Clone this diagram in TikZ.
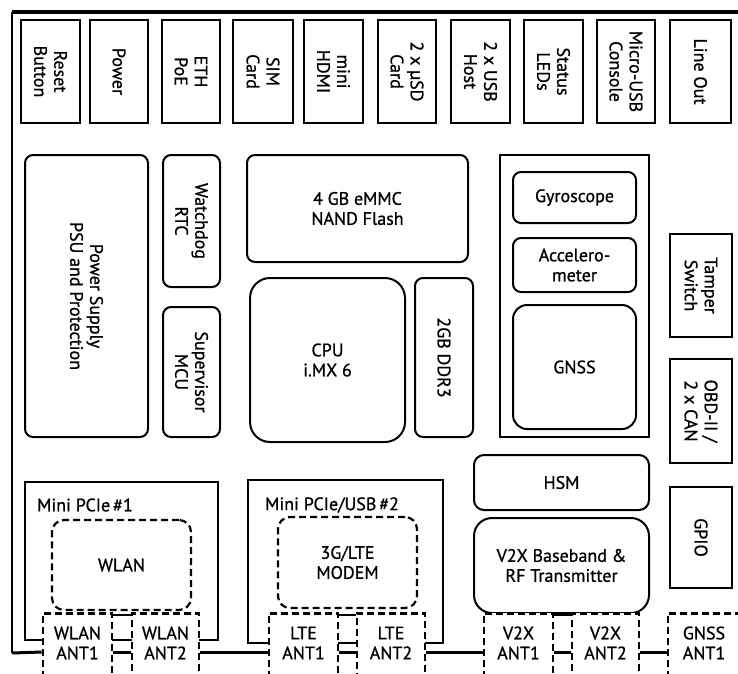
\documentclass[tikz,border=0pt]{standalone}
\usepackage{fontspec}
\setmainfont{PT Sans}[FakeBold=0.9]
\begin{document}
\begin{tikzpicture}[x=1pt,y=-1pt,
  every node/.style={font=\fontsize{18}{20}\selectfont, align=center, inner sep=0pt},
  box/.style={draw, line width=2pt, rectangle},
  rbox/.style={draw, line width=2pt, rounded corners=8pt},
  vbox/.style={box, rotate=-90},
  vrbox/.style={rbox, rotate=-90},
  dbox/.style={draw, line width=2.2pt, dashed, dash pattern=on 7pt off 4pt, rounded corners=12pt},
  antbox/.style={draw, line width=2.6pt, dash pattern=on 7pt off 4pt, fill=white, anchor=north, minimum height=90pt},
  frame/.style={line width=1.6pt},
  bus/.style={line width=3pt},
  thinbus/.style={line width=1.4pt}
]
\useasboundingbox (0,0) rectangle (738,673);
\clip (0,0) rectangle (738,673);

% outer frame
\coordinate (ftl) at (12,12);
\coordinate (ftr) at (738,12);
\coordinate (fbl) at (12,653);
\draw[line width=3.2pt] (ftl) -- (ftr);
\draw[frame] (ftl) -- (fbl);

% top connectors
\node[vbox, minimum width=103pt, minimum height=59pt] (reset) at (50.5,71.5) {Reset\\Button};
\node[vbox, minimum width=103pt, minimum height=58pt] (power) at (119,71.5) {Power};
\node[vbox, minimum width=103pt, minimum height=58pt] (eth) at (191,71.5) {ETH\\PoE};
\node[vbox, minimum width=103pt, minimum height=60pt] (sim) at (263,71.5) {SIM\\Card};
\node[vbox, minimum width=103pt, minimum height=59pt] (hdmi) at (333.5,71.5) {mini\\HDMI};
\node[vbox, minimum width=103pt, minimum height=58pt] (usd) at (407,71.5) {2 x µSD\\Card};
\node[vbox, minimum width=103pt, minimum height=59pt] (usb) at (480.5,71.5) {2 x USB\\Host};
\node[vbox, minimum width=103pt, minimum height=59pt] (leds) at (553.5,71.5) {Status\\LEDs};
\node[vbox, minimum width=103pt, minimum height=58pt] (console) at (626,71.5) {Micro-USB\\Console};
\node[vbox, minimum width=103pt, minimum height=61pt] (lineout) at (700.5,71.5) {Line Out};

% left column
\node[vrbox, minimum width=282pt, minimum height=123pt] (psu) at (86.5,296) {Power Supply\\PSU and Protection};
\node[vrbox, minimum width=132pt, minimum height=57pt] (wdog) at (191.5,221) {Watchdog\\RTC};
\node[vrbox, minimum width=130pt, minimum height=57pt] (mcu) at (191.5,372) {Supervisor\\MCU};

% centre
\node[rbox, minimum width=221pt, minimum height=107pt] (emmc) at (357.5,208.5) {4 GB eMMC\\NAND Flash};
\node[rbox, rounded corners=20pt, minimum width=155pt, minimum height=164pt] (cpu) at (327.5,360) {CPU\\i.MX 6};
\node[vrbox, minimum width=159pt, minimum height=58pt] (ddr) at (444,357.5) {2GB DDR3};

% sensor group
\node[box, minimum width=149pt, minimum height=282pt] (sens) at (574.5,296) {};
\node[rbox, minimum width=123pt, minimum height=51pt] (gyro) at (574.5,197.5) {Gyroscope};
\node[rbox, minimum width=123pt, minimum height=54pt] (accel) at (574.5,265) {Accelero-\\meter};
\node[rbox, rounded corners=14pt, minimum width=123pt, minimum height=124pt] (gnss) at (574.5,367) {GNSS};

% right connectors
\node[vbox, minimum width=103pt, minimum height=62pt] (tamper) at (701,285.5) {Tamper\\Switch};
\node[vbox, minimum width=104pt, minimum height=62pt] (obd) at (701,411) {OBD-II /\\2 x CAN};
\node[vbox, minimum width=101pt, minimum height=62pt] (gpio) at (701,537.5) {GPIO};

% HSM and V2X
\node[rbox, rounded corners=10pt, minimum width=175pt, minimum height=55pt] (hsm) at (561.5,482.5) {HSM};
\node[rbox, rounded corners=18pt, minimum width=175pt, minimum height=95pt] (v2x) at (561.5,565.5) {V2X Baseband \&\\RF Transmitter};

% mini PCIe modules
\coordinate (m1tl) at (25,482);
\coordinate (m1br) at (218,640);
\draw[frame] (m1tl) rectangle (m1br);
\node[anchor=west] (m1lab) at (37,505) {Mini PCIe\,\#1};
\node[dbox, minimum width=139pt, minimum height=90pt] (wlan) at (121.5,565) {WLAN};

\coordinate (m2tl) at (248,480);
\coordinate (m2br) at (443,643);
\draw[frame] (m2tl) rectangle (m2br);
\node[anchor=west] (m2lab) at (265,505) {Mini PCIe/USB\,\#2};
\node[dbox, minimum width=139pt, minimum height=91pt] (lte) at (347.5,562.5) {3G/LTE\\MODEM};

% antenna boxes
\node[antbox, minimum width=69pt] (wa1) at (77.5,612) {};
\node[antbox, minimum width=67pt] (wa2) at (165.5,612) {};
\node[antbox, minimum width=69pt] (la1) at (303.5,612) {};
\node[antbox, minimum width=68pt] (la2) at (391,612) {};
\node[antbox, minimum width=69pt] (va1) at (518.5,612) {};
\node[antbox, minimum width=67pt] (va2) at (605.5,612) {};
\node[antbox, minimum width=80pt] (ga1) at (708,612) {};

\node (wa1t) at (77.5,643) {WLAN\\ANT1};
\node (wa2t) at (165.5,643) {WLAN\\ANT2};
\node (la1t) at (303.5,643) {LTE\\ANT1};
\node (la2t) at (391,643) {LTE\\ANT2};
\node (va1t) at (518.5,643) {V2X\\ANT1};
\node (va2t) at (605.5,643) {V2X\\ANT2};
\node (ga1t) at (704,643) {GNSS\\ANT1};

% bus lines
\coordinate (busy) at (0,652);
\coordinate (topy) at (0,615);
\draw[bus] (fbl) -- (wa1.west |- busy);
\draw[bus] (wa1.east |- busy) -- (wa2.west |- busy);
\draw[bus] (wa2.east |- busy) -- (la1.west |- busy);
\draw[bus] (la1.east |- busy) -- (la2.west |- busy);
\draw[bus] (la2.east |- busy) -- (va1.west |- busy);
\draw[bus] (va1.east |- busy) -- (va2.west |- busy);
\draw[bus] (va2.east |- busy) -- (ga1.west |- busy);
\draw[thinbus] (wa1.east |- topy) -- (wa2.west |- topy);
\draw[thinbus] (la1.east |- topy) -- (la2.west |- topy);
\draw[thinbus] (va1.east |- topy) -- (va2.west |- topy);
\end{tikzpicture}
\end{document}
